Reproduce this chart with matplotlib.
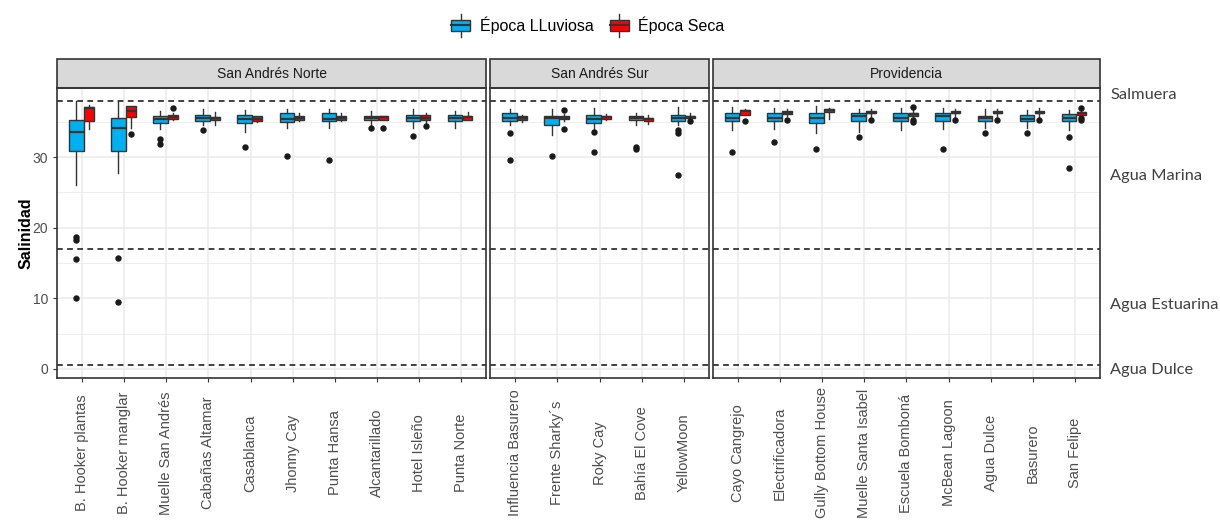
import matplotlib.pyplot as plt
from matplotlib.patches import Rectangle
from matplotlib.lines import Line2D
from matplotlib.legend_handler import HandlerBase
from matplotlib.ticker import MultipleLocator

plt.rcParams['font.family'] = ['Liberation Sans', 'DejaVu Sans']

# sitios por zona
zonas = ['San Andrés Norte', 'San Andrés Sur', 'Providencia']
sitios_norte = ['B. Hooker plantas', 'B. Hooker manglar', 'Muelle San Andrés',
                'Cabañas Altamar', 'Casablanca', 'Jhonny Cay', 'Punta Hansa',
                'Alcantarillado', 'Hotel Isleño', 'Punta Norte']
sitios_sur = ['Influencia Basurero', 'Frente Sharky´s', 'Roky Cay',
              'Bahía El Cove', 'YellowMoon']
sitios_prov = ['Cayo Cangrejo', 'Electrificadora', 'Gully Bottom House',
               'Muelle Santa Isabel', 'Escuela Bomboná', 'McBean Lagoon',
               'Agua Dulce', 'Basurero', 'San Felipe']

# época lluviosa: bigote inf, Q1, mediana, Q3, bigote sup, atípicos
lluv_lo = [26.0, 27.7, 34.0, 34.6, 33.6, 34.2, 34.2, 34.5, 34.2, 34.2,
           34.5, 33.1, 34.0, 34.5, 34.5,
           33.8, 34.0, 33.4, 33.6, 33.8, 34.0, 34.2, 34.2, 33.8]
lluv_q1 = [30.9, 30.9, 34.9, 35.1, 34.9, 35.0, 35.1, 35.3, 35.1, 35.1,
           35.1, 34.5, 34.9, 35.3, 35.1,
           35.1, 35.1, 34.8, 35.1, 35.1, 35.1, 35.1, 35.1, 35.1]
lluv_med = [33.6, 34.2, 35.4, 35.5, 35.4, 35.4, 35.4, 35.6, 35.5, 35.5,
            35.5, 35.6, 35.4, 35.6, 35.6,
            35.6, 35.6, 35.5, 35.8, 35.5, 35.8, 35.6, 35.4, 35.6]
lluv_q3 = [35.3, 35.5, 35.8, 36.0, 36.0, 36.2, 36.2, 35.9, 36.0, 36.0,
           36.2, 35.9, 36.0, 35.9, 36.0,
           36.2, 36.2, 36.2, 36.2, 36.2, 36.2, 35.9, 36.0, 36.1]
lluv_hi = [38.0, 38.0, 36.6, 36.8, 36.7, 36.8, 36.8, 36.6, 36.8, 36.5,
           36.8, 36.8, 36.9, 36.2, 37.1,
           37.1, 37.0, 37.3, 36.8, 37.0, 37.0, 36.8, 36.7, 36.7]
lluv_out = [[18.7, 18.3, 15.5, 10.1], [15.7, 9.5], [32.6, 31.9], [33.9], [31.4],
            [30.2], [29.6], [34.1], [33.0], [],
            [33.4, 29.6], [30.2], [33.5, 30.8], [31.5, 31.2], [33.8, 33.4, 27.4],
            [30.8], [32.1], [31.1], [32.9], [], [31.2], [33.4], [33.4], [32.9, 28.5]]

# época seca
seca_lo = [34.0, 34.1, 35.2, 34.6, 35.0, 35.1, 35.1, 35.2, 34.9, 35.2,
           35.0, 35.1, 35.2, 34.7, 35.4,
           36.0, 35.8, 35.4, 35.6, 35.6, 35.6, 35.6, 35.6, 35.8]
seca_q1 = [35.1, 35.7, 35.4, 35.2, 35.1, 35.3, 35.3, 35.3, 35.2, 35.3,
           35.2, 35.4, 35.4, 35.1, 35.6,
           36.0, 36.1, 36.4, 36.2, 35.9, 36.2, 36.2, 36.2, 36.0]
seca_med = [36.9, 36.5, 35.7, 35.5, 35.4, 35.6, 35.5, 35.7, 35.6, 35.7,
            35.5, 35.6, 35.7, 35.4, 35.7,
            36.5, 36.3, 36.7, 36.3, 36.1, 36.3, 36.3, 36.3, 36.2]
seca_q3 = [37.1, 37.2, 36.0, 35.7, 35.8, 35.8, 35.8, 35.9, 36.0, 35.8,
           35.8, 35.8, 35.9, 35.6, 35.9,
           36.7, 36.5, 36.8, 36.5, 36.3, 36.5, 36.5, 36.5, 36.4]
seca_hi = [37.4, 37.3, 36.2, 36.4, 35.9, 36.2, 36.2, 35.9, 36.2, 36.4,
           36.0, 36.1, 36.1, 36.0, 36.3,
           36.8, 36.8, 36.9, 36.8, 36.7, 36.8, 36.8, 36.9, 36.6]
seca_out = [[], [33.3], [36.9], [], [], [], [], [34.1], [34.4], [],
            [], [36.7, 34.0], [], [], [35.1],
            [35.1], [35.2], [], [35.2], [37.1, 35.3, 35.0], [35.2], [35.2], [35.2],
            [37.0, 35.5, 35.2]]

# límites de tipo de agua y rótulos a la derecha
limites = [38.0, 17.0, 0.6]
tipos_agua = ['Salmuera', 'Agua Marina', 'Agua Estuarina', 'Agua Dulce']
tipos_y = [38.8, 27.3, 9.1, -0.1]

epocas = ['Época LLuviosa', 'Época Seca']
colores = ['#00B0F0', '#FF0000']
borde = '#333333'


def stats(lo, q1, med, q3, hi, out, i0, i1):
    return [dict(whislo=lo[k], q1=q1[k], med=med[k], q3=q3[k], whishi=hi[k],
                 fliers=out[k]) for k in range(i0, i1)]


class BoxKey(HandlerBase):
    def create_artists(self, legend, orig_handle, xdescent, ydescent,
                       width, height, fontsize, trans):
        cx = width / 2 - xdescent
        h = height * 0.75
        y0 = -ydescent + (height - h) / 2
        w = width * 0.85
        wh = Line2D([cx, cx], [-ydescent - 3, height - ydescent + 3],
                    color=borde, lw=1, transform=trans)
        box = Rectangle((cx - w / 2, y0), w, h, facecolor=orig_handle.get_facecolor(),
                        edgecolor=borde, lw=1, transform=trans)
        med = Line2D([cx - w / 2, cx + w / 2], [y0 + h / 2, y0 + h / 2],
                     color=borde, lw=1.5, transform=trans)
        return [wh, box, med]


grupos = [sitios_norte, sitios_sur, sitios_prov]
fig = plt.figure(figsize=(12.2, 5.23), dpi=100)
gs = fig.add_gridspec(1, 3, width_ratios=[len(g) + 0.2 for g in grupos],
                      left=57 / 1220, right=1100 / 1220,
                      bottom=1 - 378 / 523, top=1 - 88 / 523, wspace=0.0116)

inicio = 0
axes = []
for j, (zona, sitios) in enumerate(zip(zonas, grupos)):
    ax = fig.add_subplot(gs[0, j], sharey=axes[0] if axes else None)
    axes.append(ax)
    n = len(sitios)
    pos = [p + 1 for p in range(n)]
    fin = inicio + n

    st_l = stats(lluv_lo, lluv_q1, lluv_med, lluv_q3, lluv_hi, lluv_out, inicio, fin)
    st_s = stats(seca_lo, seca_q1, seca_med, seca_q3, seca_hi, seca_out, inicio, fin)
    for st, off, w, c in [(st_l, -0.14, 0.34, colores[0]), (st_s, 0.16, 0.22, colores[1])]:
        ax.bxp(st, positions=[p + off for p in pos], widths=w, patch_artist=True,
               showcaps=False, manage_ticks=False,
               boxprops=dict(facecolor=c, edgecolor=borde, lw=1),
               medianprops=dict(color=borde, lw=1.6),
               whiskerprops=dict(color=borde, lw=1),
               flierprops=dict(marker='o', markerfacecolor='#1a1a1a',
                               markeredgecolor='#1a1a1a', markersize=3.6))
    inicio = fin

    for v in limites:
        ax.axhline(v, color=borde, ls=(0, (3.2, 2.4)), lw=1.3, zorder=1.5)

    ax.set_xlim(0.4, n + 0.6)
    ax.set_ylim(-1.3, 39.8)
    ax.yaxis.set_major_locator(MultipleLocator(10))
    ax.yaxis.set_minor_locator(MultipleLocator(5))
    ax.set_axisbelow(True)
    ax.grid(which='major', color='#EBEBEB', lw=1.1)
    ax.grid(which='minor', axis='y', color='#EBEBEB', lw=0.6)
    ax.tick_params(which='minor', length=0)
    ax.tick_params(which='major', color=borde, length=3, width=0.8)

    ax.set_xticks(pos, labels=sitios, rotation=90, fontsize=10.5,
                  color='#4D4D4D', va='center')
    ax.tick_params(axis='x', pad=51)
    for s in ax.spines.values():
        s.set_color(borde)
        s.set_linewidth(1.2)

    # franja del panel
    ax.add_patch(Rectangle((0, 1), 1, 29 / 290, transform=ax.transAxes,
                           facecolor='#D9D9D9', edgecolor=borde, lw=1.2,
                           clip_on=False))
    ax.text(0.5, 1 + 14.5 / 290, zona, transform=ax.transAxes, ha='center',
            va='center', fontsize=10, color='#1A1A1A')

    if j == 0:
        ax.tick_params(axis='y', labelsize=10, labelcolor='#4D4D4D')
        ax.set_ylabel('Salinidad', fontsize=11.5, fontweight='bold', labelpad=-1)
    else:
        ax.tick_params(axis='y', left=False, labelleft=False)

for txt, y in zip(tipos_agua, tipos_y):
    axes[2].text(1.026, y, txt, transform=axes[2].get_yaxis_transform(),
                 ha='left', va='center', fontsize=11.8, color='#404040',
                 family=['Lato', 'DejaVu Sans'])

handles = [Rectangle((0, 0), 1, 1, facecolor=c) for c in colores]
fig.legend(handles, epocas, loc='center', bbox_to_anchor=(587 / 1220, 1 - 25 / 523),
           ncol=2, frameon=False, fontsize=11.5, handler_map={Rectangle: BoxKey()},
           handlelength=1.4, handleheight=1.0, handletextpad=0.5, columnspacing=0.9)

fig.savefig('out.png', dpi=100)
